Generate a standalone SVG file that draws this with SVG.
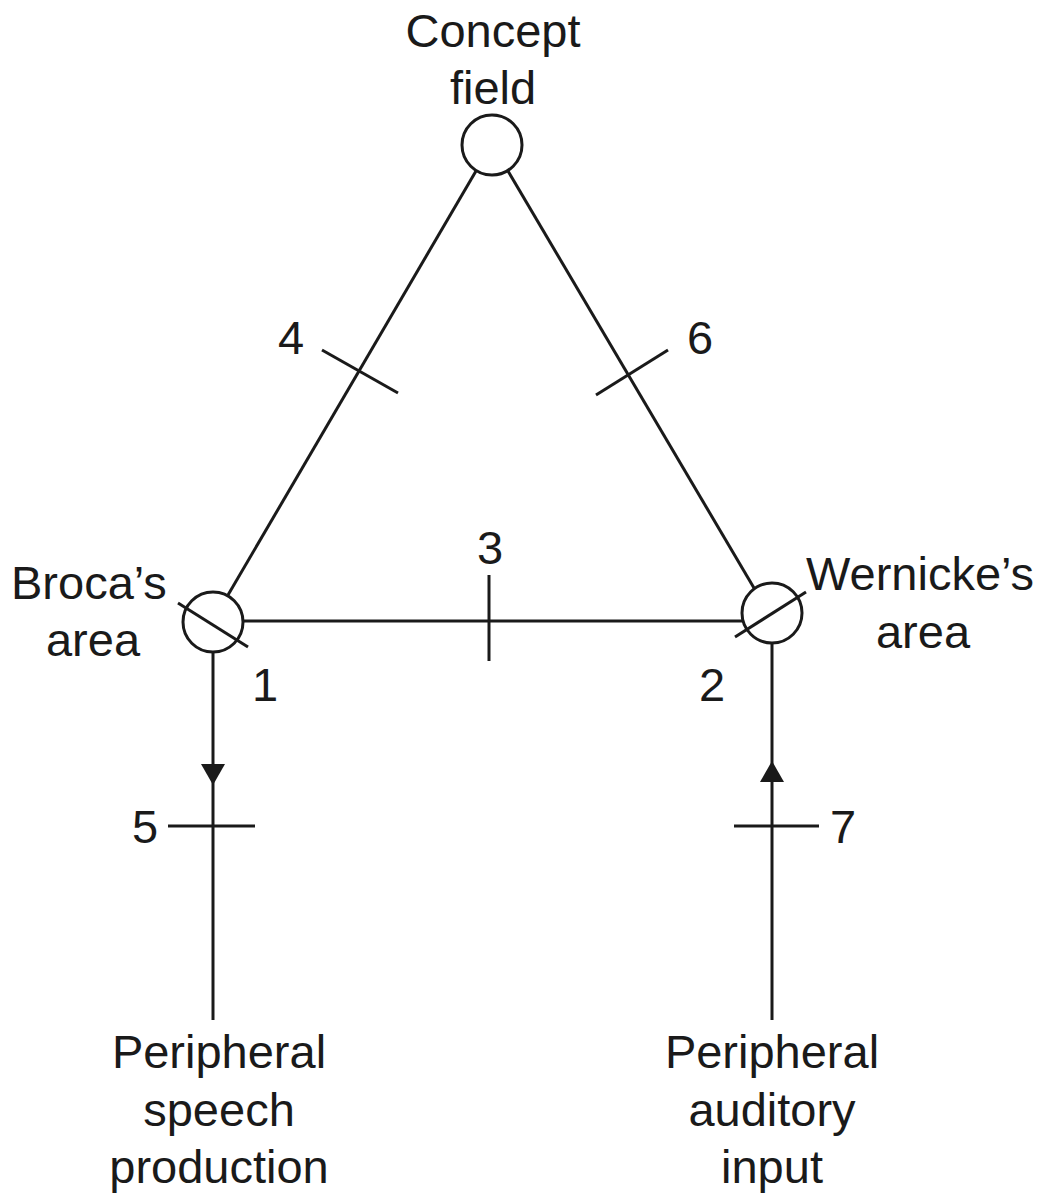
<svg xmlns="http://www.w3.org/2000/svg" width="1050" height="1197" viewBox="0 0 1050 1197">
<defs>
<style>
text{font-family:"Liberation Sans",Arial,sans-serif;font-size:47px;fill:#1a1a1a}
.m{text-anchor:middle}
.ln{stroke:#1a1a1a;stroke-width:3;fill:none}
.nd{stroke:#1a1a1a;stroke-width:3;fill:#fff}
</style>
<marker id="ah" markerWidth="22" markerHeight="24" viewBox="0 0 22 24" refX="20" refY="12" orient="auto" markerUnits="userSpaceOnUse">
<path d="M0,0 L21,12 L0,24 z" fill="#1a1a1a"/>
</marker>
</defs>
<rect width="1050" height="1197" fill="#fff"/>
<g id="connectors">
<line class="ln" x1="476" y1="171" x2="228" y2="595"/>
<line class="ln" x1="508" y1="171" x2="754" y2="588"/>
<line class="ln" x1="243" y1="621" x2="743" y2="621"/>
<line class="ln" x1="213" y1="784" x2="213" y2="1020"/>
<line class="ln" x1="772" y1="643" x2="772" y2="762"/>
<line class="ln" x1="213" y1="652" x2="213" y2="784" marker-end="url(#ah)"/>
<line class="ln" x1="772" y1="1020" x2="772" y2="762" marker-end="url(#ah)"/>
<line class="ln" x1="322" y1="350" x2="398" y2="393"/>
<line class="ln" x1="596" y1="395" x2="668" y2="350"/>
<line class="ln" x1="489" y1="575" x2="489" y2="661"/>
<line class="ln" x1="168" y1="826" x2="255" y2="826"/>
<line class="ln" x1="734" y1="826" x2="819" y2="826"/>
</g>
<g id="concept">
<circle class="nd" cx="492" cy="145" r="30"/>
<text class="m" x="493" y="47">Concept</text>
<text class="m" x="493" y="104">field</text>
</g>
<g id="broca">
<circle class="nd" cx="213" cy="622" r="30"/>
<line class="ln" x1="178" y1="603" x2="248" y2="647"/>
<text x="11" y="599">Broca’s</text>
<text class="m" x="93" y="656">area</text>
</g>
<g id="wernicke">
<circle class="nd" cx="772" cy="613" r="30"/>
<line class="ln" x1="735" y1="637" x2="806" y2="592"/>
<text x="806" y="590">Wernicke’s</text>
<text class="m" x="923" y="648">area</text>
</g>
<g id="speech">
<text class="m" x="219" y="1068">Peripheral</text>
<text class="m" x="219" y="1126">speech</text>
<text class="m" x="219" y="1183">production</text>
</g>
<g id="auditory">
<text class="m" x="772" y="1068">Peripheral</text>
<text class="m" x="772" y="1126">auditory</text>
<text class="m" x="772" y="1183">input</text>
</g>
<g id="labels">
<text class="m" x="291" y="354">4</text>
<text class="m" x="700" y="354">6</text>
<text class="m" x="490" y="564">3</text>
<text class="m" x="265" y="701">1</text>
<text class="m" x="712" y="701">2</text>
<text class="m" x="145" y="843">5</text>
<text class="m" x="843" y="843">7</text>
</g>
</svg>
